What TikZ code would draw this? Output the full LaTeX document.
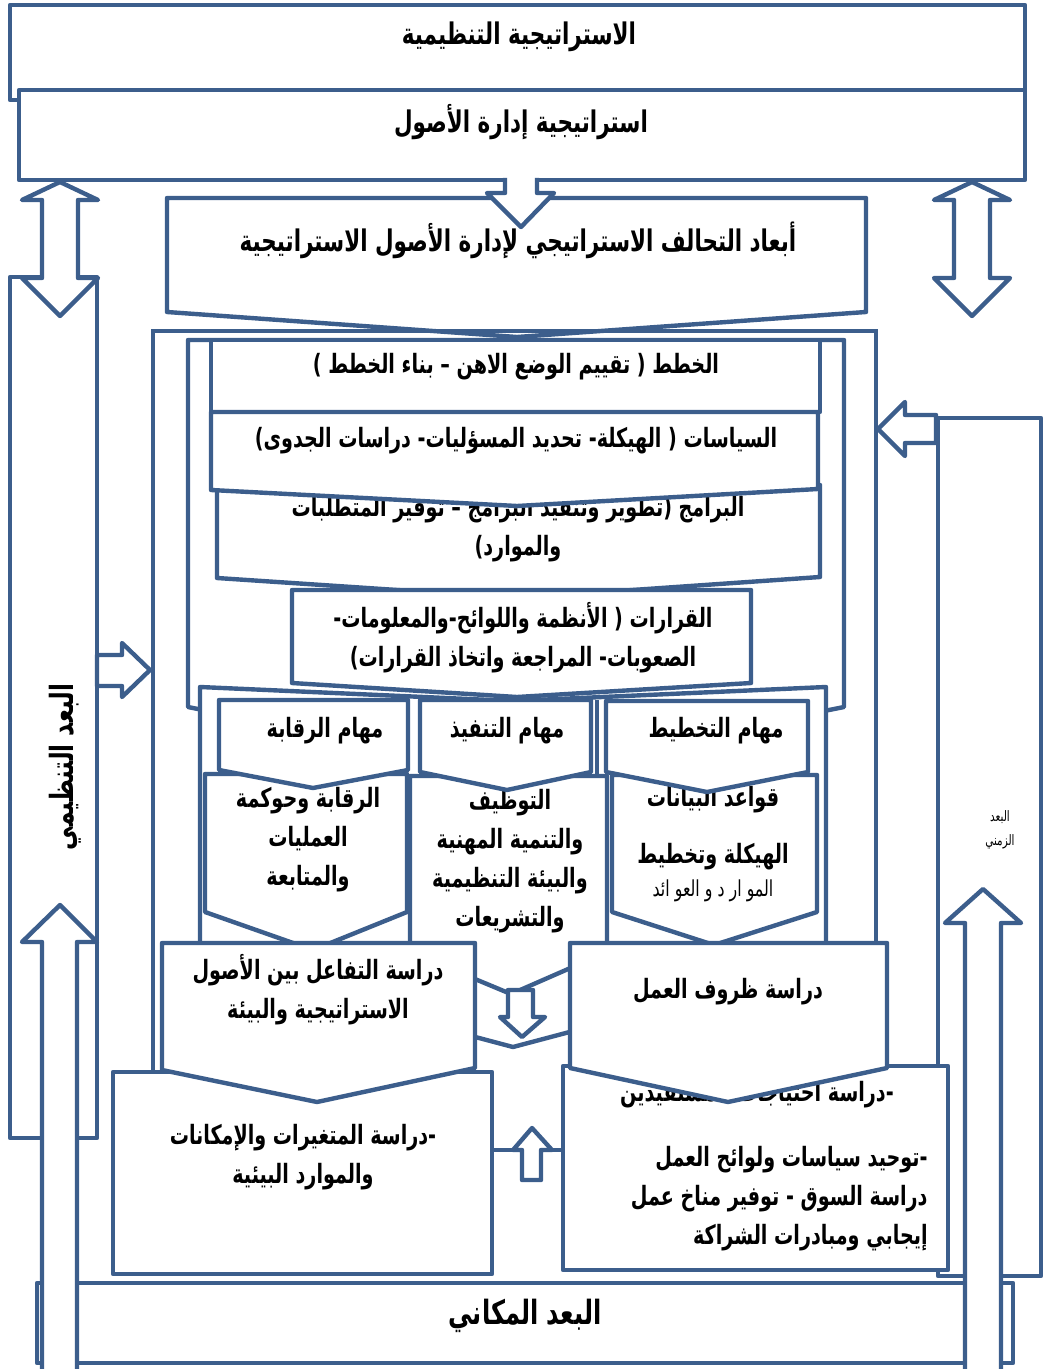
\documentclass[tikz,border=0pt]{standalone}
\usepackage{fontspec}
\newfontfamily\arabicfont[Script=Arabic,FakeStretch=0.72]{DejaVu Sans}
\TeXXeTstate=1
\definecolor{boxblue}{RGB}{60,94,140}
\newcommand{\ar}[1]{\beginR #1\endR}

\begin{document}
\begin{tikzpicture}[x=0.5pt,y=-0.5pt,
    blk/.style={draw=boxblue,line width=2.2pt,fill=white,line join=round},
    lbl/.style={font=\arabicfont\bfseries\fontsize{13.3}{19.5}\selectfont,align=center,inner sep=0pt},
    big/.style={lbl,font=\arabicfont\bfseries\fontsize{14.9}{19.5}\selectfont},
    tiny/.style={font=\arabicfont\fontsize{7.2}{12}\selectfont,align=center,inner sep=0pt}]
    \useasboundingbox (0,0) rectangle (1048,1369);

    % top strategy boxes
    \draw[blk] (10,5) rectangle (1025,100);
    \node (org) at (519,37) [big] {\ar{الاستراتيجية التنظيمية}};
    \draw[blk] (19,90) rectangle (1025,180);
    \node (assets) at (521,122) [big] {\ar{استراتيجية إدارة الأصول}};

    \draw[blk] (167,198) -- (866,198) -- (866,312) -- (517,337) -- (167,312) -- cycle;
    \node (dims) at (518,240) [big] {\ar{أبعاد التحالف الاستراتيجي لإدارة الأصول الاستراتيجية}};

    \fill[white] (505,176) rectangle (537,194);
    \draw[blk] (505,178) -- (505,193) -- (487,193) -- (521,227) -- (554,193) -- (537,193) -- (537,178);

    % side dimensions
    \draw[blk] (37,1283) rectangle (1013,1363);
    \node (place) at (525,1316) [lbl,font=\arabicfont\bfseries\fontsize{16.7}{19.5}\selectfont] {\ar{البعد المكاني}};
    \draw[blk] (10,277) rectangle (97,1138);
    \node (orgdim) at (65,767) [lbl,rotate=90,font=\arabicfont\bfseries\fontsize{16}{19.5}\selectfont] {\ar{البعد التنظيمي}};
    \draw[blk] (938,418) rectangle (1041,1276);
    \node (time) at (1000,830) [tiny] {\ar{البعد}\\\ar{الزمني}};

    \foreach \cx in {60,972} {
        \draw[blk] (\cx,182) -- ({\cx+38},200) -- ({\cx+18},200) -- ({\cx+18},278)
            -- ({\cx+38},278) -- (\cx,316) -- ({\cx-38},278) -- ({\cx-18},278)
            -- ({\cx-18},200) -- ({\cx-38},200) -- cycle;
    }
    \draw[blk] (60,905) -- (97,942) -- (77,942) -- (77,1372) -- (42,1372) -- (42,942) -- (22,942) -- cycle;
    \draw[blk] (983,889) -- (1021,923) -- (1001,923) -- (1001,1372) -- (965,1372) -- (965,923) -- (945,923) -- cycle;
    \draw[blk] (150,670) -- (122,643) -- (122,655) -- (97,655) -- (97,686) -- (122,686) -- (122,697) -- cycle;
    \draw[blk] (878,429) -- (905,402) -- (905,415) -- (936,415) -- (936,443) -- (905,443) -- (905,456) -- cycle;

    % containers
    \draw[draw=boxblue,line width=2.2pt] (153,331) rectangle (876,1150);
    \draw[blk] (188,340) -- (844,340) -- (844,707) -- (516,773) -- (188,707) -- cycle;

    % plans, policies, programs, decisions
    \draw[blk] (217,485) -- (820,485) -- (820,577) -- (517,598) -- (217,578) -- cycle;
    \node (programs) at (518,529) [lbl] {\ar{البرامج (تطوير وتنفيذ البرامج – توفير المتطلبات}\\\ar{والموارد)}};
    \draw[blk] (211,340) rectangle (820,412);
    \node (plans) at (516,367) [lbl] {\ar{الخطط ( تقييم الوضع الاهن – بناء الخطط )}};
    \draw[blk] (211,412) -- (818,412) -- (818,489) -- (517,506) -- (211,490) -- cycle;
    \node (policies) at (516,441) [lbl] {\ar{السياسات ( الهيكلة- تحديد المسؤليات- دراسات الجدوى)}};
    \draw[blk] (200,687) -- (513,701) -- (826,687) -- (826,964) -- (513,1047) -- (200,964) -- cycle;
    \draw[blk] (292,590) -- (751,590) -- (751,683) -- (517,697) -- (292,683) -- cycle;
    \node (decisions) at (523,638) [lbl] {\ar{القرارات ( الأنظمة واللوائح-والمعلومات-}\\\ar{الصعوبات- المراجعة واتخاذ القرارات)}};

    % three task columns
    \draw[boxblue,line width=2.2pt] (597,700) -- (597,774);
    \draw[blk] (205,774) -- (407,774) -- (407,912) -- (313,950) -- (205,912) -- cycle;
    \node (control) at (308,840) [lbl] {\ar{الرقابة وحوكمة}\\\ar{العمليات}\\\ar{والمتابعة}};
    \draw[blk] (219,700) -- (408,700) -- (408,770) -- (313,788) -- (219,770) -- cycle;
    \node (controlh) at (325,731) [lbl] {\ar{مهام الرقابة}};
    \draw[blk] (410,776) -- (607,776) -- (607,952) -- (511,994) -- (410,952) -- cycle;
    \node (exec) at (510,861) [lbl] {\ar{التوظيف}\\\ar{والتنمية المهنية}\\\ar{والبيئة التنظيمية}\\\ar{والتشريعات}};
    \draw[blk] (420,700) -- (591,700) -- (591,772) -- (507,790) -- (420,772) -- cycle;
    \node (exech) at (507,731) [lbl] {\ar{مهام التنفيذ}};
    \draw[blk] (612,775) -- (817,775) -- (817,912) -- (714,945) -- (612,912) -- cycle;
    \node (plan1) at (713,800) [lbl] {\ar{قواعد البيانات}};
    \node (plan2) at (713,857) [lbl] {\ar{الهيكلة وتخطيط}};
    \node (plan3) at (713,891) [lbl,font=\arabicfont\fontsize{11}{12}\selectfont] {\ar{المو ار د و العو ائد}};
    \draw[blk] (606,701) -- (808,701) -- (808,772) -- (707,792) -- (606,772) -- cycle;
    \node (planh) at (716,731) [lbl] {\ar{مهام التخطيط}};

    % studies
    \draw[blk] (113,1072) rectangle (492,1274);
    \node (vars) at (303,1157) [lbl] {\ar{-دراسة المتغيرات والإمكانات}\\\ar{والموارد البيئية}};
    \draw[blk] (563,1066) rectangle (948,1270);
    \node (needs) at (757,1095) [lbl] {\ar{-دراسة احتياجات المستفيدين}};
    \node (market) at (928,1199) [lbl,anchor=east,align=right] {\ar{-توحيد سياسات ولوائح العمل}\\\ar{دراسة السوق - توفير مناخ عمل}\\\ar{إيجابي ومبادرات الشراكة}};
    \draw[blk] (162,943) -- (475,943) -- (475,1068) -- (317,1102) -- (162,1070) -- cycle;
    \node (interact) at (318,990) [lbl] {\ar{دراسة التفاعل بين الأصول}\\\ar{الاستراتيجية والبيئة}};
    \draw[blk] (570,943) -- (887,943) -- (887,1068) -- (728,1102) -- (570,1068) -- cycle;
    \node (work) at (728,992) [lbl] {\ar{دراسة ظروف العمل}};

    \draw[blk] (508,990) -- (533,990) -- (533,1017) -- (545,1017) -- (522,1037) -- (500,1017) -- (508,1017) -- cycle;
    \draw[blk] (532,1128) -- (552,1150) -- (541,1150) -- (541,1180) -- (522,1180) -- (522,1150) -- (513,1150) -- cycle;
\end{tikzpicture}
\end{document}
